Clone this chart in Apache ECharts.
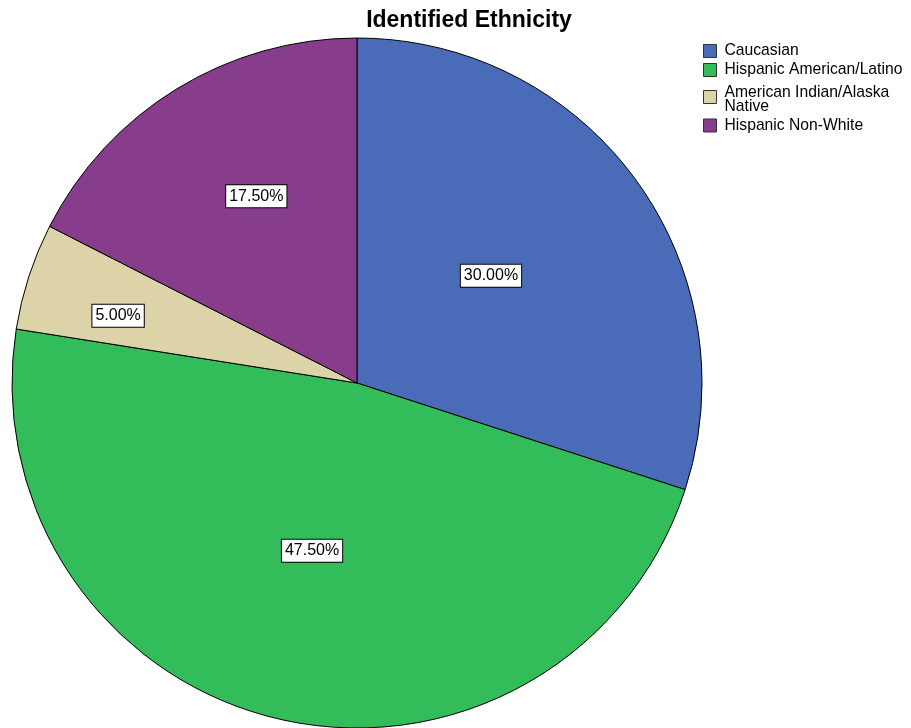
<!DOCTYPE html>
<html>
<head>
<meta charset="utf-8">
<script src="https://cdn.jsdelivr.net/npm/echarts@6/dist/echarts.min.js"></script>
<style>html,body{margin:0;padding:0;background:#fff;}#c{width:911px;height:728px;}</style>
</head>
<body>
<div id="c"></div>
<script>
const categories = ["Caucasian", "Hispanic American/Latino", "American Indian/Alaska Native", "Hispanic Non-White"];
const legendLabels = ["Caucasian", "Hispanic American/Latino", "American Indian/Alaska\nNative", "Hispanic Non-White"];
const values = [30.0, 47.5, 5.0, 17.5];
const colors = ["#4A6CB8", "#33BD5A", "#DCD4A8", "#883D8C"];
// label nudges (style only) to mimic the original label placement
const labelNudges = [[-8, -4], [-4, -3], [-72, -13], [-9, -37]];

const chart = echarts.init(document.getElementById('c'), null, {renderer: 'canvas'});
const font = '"Liberation Sans", Arial, sans-serif';
chart.setOption({
  animation: false,
  backgroundColor: '#fff',
  title: {
    text: 'Identified Ethnicity',
    left: 464, top: 4, textAlign: 'center',
    textStyle: {fontFamily: font, fontSize: 23, fontWeight: 'bold', color: '#000'}
  },
  legend: {
    orient: 'vertical', left: 703, top: 43, padding: 0,
    itemWidth: 13, itemHeight: 13, itemGap: 3,
    icon: 'rect',
    itemStyle: {borderColor: '#333', borderWidth: 1},
    formatter: name => {
      const lbl = legendLabels[categories.indexOf(name)];
      if (lbl.indexOf('\n') < 0) return lbl;
      return '{s| }\n' + lbl.split('\n').map(t => '{t|' + t + '}').join('\n');
    },
    textStyle: {
      fontFamily: font, fontSize: 15.7, color: '#000', padding: [0, 0, 0, 3],
      rich: {
        s: {fontSize: 4, lineHeight: 5},
        t: {fontFamily: font, fontSize: 15.7, color: '#000', lineHeight: 14}
      }
    },
    data: categories
  },
  series: [{
    type: 'pie',
    center: [357, 383],
    radius: 345,
    startAngle: 90,
    clockwise: true,
    data: categories.map((c, i) => ({
      name: c, value: values[i],
      itemStyle: {color: colors[i]},
      label: {offset: labelNudges[i]}
    })),
    itemStyle: {borderColor: '#000', borderWidth: 1},
    label: {
      position: 'inside',
      formatter: p => p.value.toFixed(2) + '%',
      fontFamily: font, fontSize: 16, color: '#000',
      backgroundColor: '#fff', borderColor: '#000', borderWidth: 1,
      padding: [3, 3, 3, 3]
    },
    labelLine: {show: false},
    emphasis: {disabled: true}
  }]
});
</script>
</body>
</html>
